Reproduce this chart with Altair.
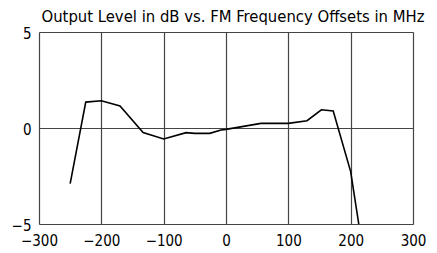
import altair as alt
import pandas as pd

freq_mhz = [-250, -225, -200, -170, -133, -100, -64, -50, -26, -8, 0, 56, 100, 130, 153, 172, 200, 213]
level_db = [-2.9, 1.35, 1.42, 1.15, -0.24, -0.57, -0.24, -0.28, -0.28, -0.1, -0.07, 0.24, 0.24, 0.38, 0.95, 0.89, -2.27, -5.0]

x_ticks = [-300, -200, -100, 0, 100, 200, 300]
y_ticks = [-5, 0, 5]

df = pd.DataFrame({"f": freq_mhz, "db": level_db})

FONT = "DejaVu Sans Condensed"

line = alt.Chart(df).mark_line(color="black", strokeWidth=1.6, clip=True).encode(
    x=alt.X("f:Q", scale=alt.Scale(domain=[-300, 300], nice=False, zero=False),
            axis=alt.Axis(values=x_ticks, title=None, grid=True, ticks=False, domain=False,
                          labelFlush=False, labelOverlap=False, labelPadding=9,
                          labelFontSize=15, labelFont=FONT, labelColor="black",
                          gridColor="#444444", gridWidth=1.2)),
    y=alt.Y("db:Q", scale=alt.Scale(domain=[-5, 5], nice=False, zero=False),
            axis=alt.Axis(values=y_ticks, title=None, grid=True, ticks=False, domain=False,
                          labelFlush=False, labelOverlap=False, labelPadding=8, labelOffset=1,
                          labelFontSize=15, labelFont=FONT, labelColor="black",
                          gridColor="#444444", gridWidth=1.2)),
)

chart = line.properties(
    width=374, height=192,
    title=alt.TitleParams("Output Level in dB vs. FM Frequency Offsets in MHz",
                          font=FONT, fontSize=16.5, fontWeight="normal", color="black",
                          offset=1, dx=7),
    autosize=alt.AutoSizeParams(type="none"),
    padding={"left": 31, "top": 24, "right": 16, "bottom": 29},
).configure_view(stroke="black", strokeWidth=1.4).configure(background="white")

chart.save("out.html", embed_options={"renderer": "svg", "actions": False})
